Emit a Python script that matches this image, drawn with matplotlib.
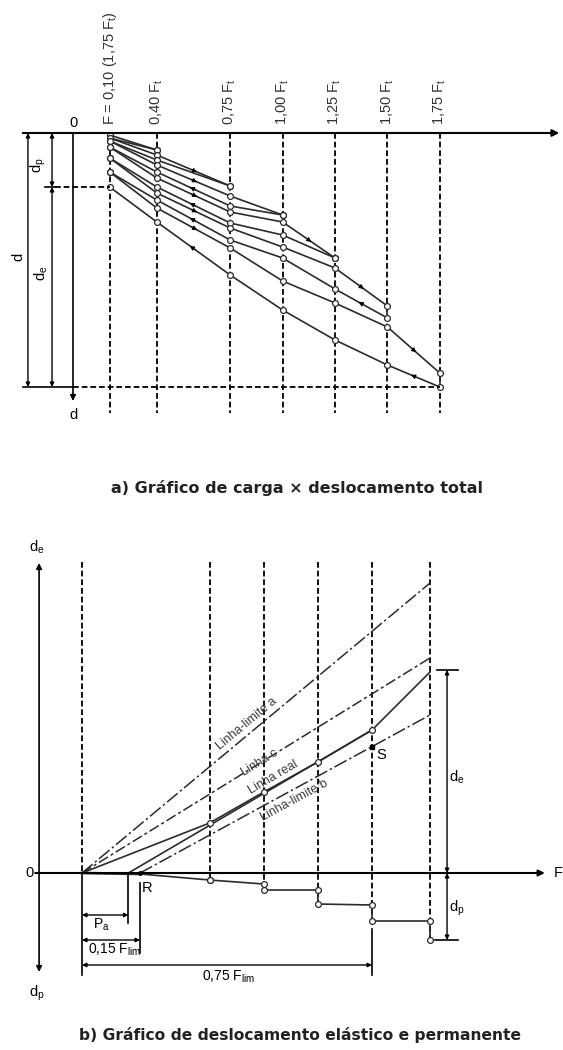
import numpy as np
import matplotlib.pyplot as plt

plt.rcParams['font.family'] = ['Liberation Sans', 'DejaVu Sans']
plt.rcParams['mathtext.fontset'] = 'custom'
plt.rcParams['mathtext.rm'] = 'Liberation Sans'
plt.rcParams['mathtext.it'] = 'Liberation Sans:italic'
plt.rcParams['mathtext.bf'] = 'Liberation Sans:bold'
plt.rcParams['mathtext.default'] = 'regular'

COR = '#2b2b2b'
TRACO = (0, (3.2, 1.6))

# ---------------- a) carga x deslocamento total ----------------
# cargas em fracao de F_t (primeira linha = 0,10 x 1,75 F_t)
cargas = [0.175, 0.40, 0.75, 1.00, 1.25, 1.50, 1.75]
rotulos = ['F = 0,10 (1,75 F$_t$)', '0,40 F$_t$', '0,75 F$_t$', '1,00 F$_t$',
           '1,25 F$_t$', '1,50 F$_t$', '1,75 F$_t$']

# deslocamentos (mm, para baixo) em cada ciclo
carga_1 = [0.2, 1.7]
descarga_1 = [1.7, 0.5]
carga_2 = [0.5, 2.2, 5.3]
descarga_2 = [5.3, 2.7, 0.8]
carga_3 = [0.8, 3.2, 6.3, 8.2]
descarga_3 = [8.2, 7.3, 3.9, 1.4]
carga_4 = [1.4, 4.5, 7.9, 8.9, 12.5]
descarga_4 = [12.5, 10.2, 9.0, 5.4, 2.5]
carga_5 = [2.5, 6.0, 9.5, 11.4, 13.5, 17.3]
descarga_5 = [18.5, 15.6, 12.5, 10.7, 6.7, 3.9]
carga_6 = [3.9, 7.5, 11.5, 14.8, 17.0, 19.4, 24.0]
descarga_6 = [25.4, 23.2, 20.7, 17.7, 14.2, 8.9, 5.4]

# ---------------- b) deslocamento elastico e permanente ----------------
cargas_b = [0.33, 0.47, 0.61, 0.75, 0.90]        # F / F_lim
de_real = [5.0, 8.1, 11.1, 14.3, 20.1]
dp_inicio = [-0.7, -1.1, -1.7, -3.2, -4.8]
dp_fim = [-0.7, -1.7, -3.1, -4.8, -6.7]
f_pa = 0.12
f_r = 0.15
f_s = 0.75
lim_a_fim = 29.0
linha_c_fim = 21.5
lim_b_fim = 15.8


def cota(ax, p0, p1):
    ax.annotate('', xy=p1, xytext=p0,
                arrowprops=dict(arrowstyle='<|-|>', color='k', lw=1.0,
                                mutation_scale=6, shrinkA=0, shrinkB=0))


def seta(ax, p0, p1, t=0.5):
    x = p0[0] + t * (p1[0] - p0[0])
    y = p0[1] + t * (p1[1] - p0[1])
    xb = p0[0] + (t - 0.08) * (p1[0] - p0[0])
    yb = p0[1] + (t - 0.08) * (p1[1] - p0[1])
    ax.annotate('', xy=(x, y), xytext=(xb, yb),
                arrowprops=dict(arrowstyle='-|>', color='k', lw=0.6,
                                mutation_scale=7, shrinkA=0, shrinkB=0))


fig = plt.figure(figsize=(5.63, 10.5), dpi=100)

# ---- grafico a)
ax1 = fig.add_axes([0, 1 - 480 / 1050, 1, 480 / 1050])
ax1.set_xlim(-73 / 209.6, 490 / 209.6)
ax1.set_ylim(34.7, -13.3)
ax1.axis('off')

for f, r in zip(cargas, rotulos):
    ax1.plot([f, f], [0, 28.0], color='k', lw=1.3, ls=TRACO)
    ax1.text(f, -0.8, r, rotation=90, ha='center', va='bottom', fontsize=10.5,
             color='#333333')

ciclos = [(carga_1, descarga_1), (carga_2, descarga_2), (carga_3, descarga_3),
          (carga_4, descarga_4), (carga_5, descarga_5), (carga_6, descarga_6)]
for i, (cl, dl) in enumerate(ciclos):
    n = len(cl)
    xs = cargas[:n]
    ax1.plot(xs, cl, color=COR, lw=1.2)
    ax1.plot([xs[-1], xs[-1]], [cl[-1], dl[0]], color=COR, lw=1.2)
    ax1.plot(xs[::-1], dl, color=COR, lw=1.2)
    ax1.plot(xs, cl, 'o', ms=4.2, mfc='white', mec=COR, mew=0.9)
    ax1.plot(xs[::-1], dl, 'o', ms=4.2, mfc='white', mec=COR, mew=0.9)
    if n >= 3:
        seta(ax1, (xs[1], cl[1]), (xs[2], cl[2]), 0.55)
    if n >= 5:
        seta(ax1, (xs[-2], cl[-2]), (xs[-1], cl[-1]), 0.55)
    if n >= 4:
        seta(ax1, (xs[2], dl[-3]), (xs[1], dl[-2]), 0.55)
    if n >= 6:
        seta(ax1, (xs[-1], dl[0]), (xs[-2], dl[1]), 0.55)

d_tot = descarga_6[0]
d_p = descarga_6[-1]

# eixos
ax1.annotate('', xy=(2.32, 0), xytext=(-0.24, 0),
             arrowprops=dict(arrowstyle='-|>', color='k', lw=1.5,
                             mutation_scale=10, shrinkA=0, shrinkB=0))
ax1.annotate('', xy=(0, 26.8), xytext=(0, 0),
             arrowprops=dict(arrowstyle='-|>', color='k', lw=1.2,
                             mutation_scale=8, shrinkA=0, shrinkB=0))
ax1.text(0.0, -1.0, '0', ha='center', va='center', fontsize=10.5)
ax1.text(0.0, 28.2, 'd', ha='center', va='center', fontsize=10.5)

# cotas
ax1.plot([-0.24, 0], [d_tot, d_tot], color='k', lw=1.2)
ax1.plot([0, cargas[-1]], [d_tot, d_tot], color='k', lw=1.3, ls=TRACO)
ax1.plot([-0.134, -0.085], [d_p, d_p], color='k', lw=1.2)
ax1.plot([-0.085, cargas[0]], [d_p, d_p], color='k', lw=1.3, ls=TRACO)
cota(ax1, (-0.215, 0), (-0.215, d_tot))
cota(ax1, (-0.100, 0), (-0.100, d_p))
cota(ax1, (-0.100, d_p), (-0.100, d_tot))
ax1.text(-0.262, 12.4, 'd', rotation=90, ha='center', va='center', fontsize=10.5)
ax1.text(-0.165, 3.2, 'd$_p$', rotation=90, ha='center', va='center', fontsize=10.5)
ax1.text(-0.150, 14.0, 'd$_e$', rotation=90, ha='center', va='center', fontsize=10.5)

fig.text(297 / 563, 1 - 488 / 1050, 'a) Gráfico de carga × deslocamento total',
         ha='center', va='center', fontsize=11.5, fontweight='bold', color='#222222',
         family=['DejaVu Sans'])

# ---- grafico b)
ax2 = fig.add_axes([0, 0, 1, 570 / 1050])
ax2.set_xlim(-82 / 386.7, 481 / 386.7)
ax2.set_ylim(-17.7, 39.3)
ax2.axis('off')

x_eixo = -0.111
ax2.annotate('', xy=(1.197, 0), xytext=(x_eixo - 0.01, 0),
             arrowprops=dict(arrowstyle='-|>', color='k', lw=1.5,
                             mutation_scale=9, shrinkA=0, shrinkB=0))
ax2.annotate('', xy=(x_eixo, 31.0), xytext=(x_eixo, 0),
             arrowprops=dict(arrowstyle='-|>', color='k', lw=1.2,
                             mutation_scale=8, shrinkA=0, shrinkB=0))
ax2.annotate('', xy=(x_eixo, -9.9), xytext=(x_eixo, 0),
             arrowprops=dict(arrowstyle='-|>', color='k', lw=1.2,
                             mutation_scale=8, shrinkA=0, shrinkB=0))
ax2.text(x_eixo - 0.005, 32.6, 'd$_e$', ha='center', va='center', fontsize=10.5)
ax2.text(x_eixo - 0.005, -12.0, 'd$_p$', ha='center', va='center', fontsize=10.5)
ax2.text(-0.135, 0, '0', ha='center', va='center', fontsize=10.5)
ax2.text(1.232, 0, 'F', ha='center', va='center', fontsize=10.5)

# linhas verticais tracejadas
ax2.plot([0, 0], [31.1, 0], color='k', lw=1.3, ls=TRACO)
ax2.plot([0, 0], [0, -10.2], color='k', lw=1.2)
for f, p in zip(cargas_b, dp_fim):
    ax2.plot([f, f], [31.1, p], color='k', lw=1.3, ls=TRACO)
ax2.plot([f_s, f_s], [-5.6, -10.2], color='k', lw=1.2)

# linhas-limite
ax2.plot([0, cargas_b[-1]], [0, lim_a_fim], color=COR, lw=1.1, ls=(0, (9, 2, 1.5, 2)))
ax2.plot([0, cargas_b[-1]], [0, linha_c_fim], color=COR, lw=1.1, ls=(0, (7, 2, 2, 2)))
ax2.plot([f_r, cargas_b[-1]], [0, lim_b_fim], color=COR, lw=1.1, ls=(0, (9, 2, 1.5, 2)))

# linha real
ax2.plot([0] + cargas_b, [0] + de_real, color=COR, lw=1.2)
ax2.plot([f_pa, f_s], [0, de_real[3]], color=COR, lw=1.2)
ax2.plot(cargas_b[:4], de_real[:4], 'o', ms=4.2, mfc='white', mec=COR, mew=0.9)

# deslocamento permanente
xs_p = [f_r]
ys_p = [-0.1]
for f, a, b in zip(cargas_b, dp_inicio, dp_fim):
    xs_p += [f, f]
    ys_p += [a, b]
ax2.plot(xs_p, ys_p, color=COR, lw=1.2)
ax2.plot(xs_p[1:], ys_p[1:], 'o', ms=4.2, mfc='white', mec=COR, mew=0.9)
ax2.plot([0, f_r], [0, -0.1], color=COR, lw=1.9)
ax2.plot([f_r], [0], 'o', ms=2.5, color='k')

# ponto S
s_y = lim_b_fim * (f_s - f_r) / (cargas_b[-1] - f_r)
ax2.plot([f_s], [s_y], 's', ms=2.5, color='k')
ax2.text(f_s + 0.025, s_y - 0.8, 'S', ha='center', va='center', fontsize=10.5)
ax2.text(f_r + 0.018, -1.5, 'R', ha='center', va='center', fontsize=10.5)


# rotulos das linhas
def rotulo(ax, txt, x, y, p0, p1):
    a = ax.transData.transform(p0)
    b = ax.transData.transform(p1)
    ang = np.degrees(np.arctan2(b[1] - a[1], b[0] - a[0]))
    ax.text(x, y, txt, rotation=ang, ha='center', va='center', fontsize=9,
            color='#3a3a3a', rotation_mode='anchor')


rotulo(ax2, 'Linha-limite a', 0.427, 14.9, (0, 0), (cargas_b[-1], lim_a_fim))
rotulo(ax2, 'Linha c', 0.46, 11.0, (0, 0), (cargas_b[-1], linha_c_fim))
rotulo(ax2, 'Linha real', 0.494, 9.6, (f_pa, 0), (f_s, de_real[3]))
rotulo(ax2, 'Linha-limite b', 0.55, 7.2, (f_r, 0), (cargas_b[-1], lim_b_fim))

# cotas inferiores
ax2.plot([f_pa, f_pa], [0, -5.0], color='k', lw=1.2)
ax2.plot([f_r, f_r], [-1.0, -8.0], color='k', lw=1.2)
cota(ax2, (0, -4.2), (f_pa, -4.2))
cota(ax2, (0, -6.7), (f_r, -6.7))
cota(ax2, (0, -9.2), (f_s, -9.2))
ax2.text(0.05, -5.2, 'P$_a$', ha='center', va='center', fontsize=10)
ax2.text(0.085, -7.7, '0,15 F$_{lim}$', ha='center', va='center', fontsize=10)
ax2.text(0.378, -10.4, '0,75 F$_{lim}$', ha='center', va='center', fontsize=10)

# cotas d_e / d_p
x_c = 0.944
cota(ax2, (x_c, 0), (x_c, 20.3))
cota(ax2, (x_c, 0), (x_c, dp_fim[-1]))
ax2.plot([x_c - 0.026, x_c + 0.028], [20.3, 20.3], color='k', lw=1.2)
ax2.plot([x_c - 0.03, x_c + 0.028], [dp_fim[-1], dp_fim[-1]], color='k', lw=1.2)
ax2.text(0.968, 9.6, 'd$_e$', ha='center', va='center', fontsize=10.5)
ax2.text(0.968, -3.5, 'd$_p$', ha='center', va='center', fontsize=10.5)

fig.text(300 / 563, 1 - 1035 / 1050, 'b) Gráfico de deslocamento elástico e permanente',
         ha='center', va='center', fontsize=11.2, fontweight='bold', color='#222222',
         family=['DejaVu Sans'])

fig.savefig('out.png', dpi=100, facecolor='white')
